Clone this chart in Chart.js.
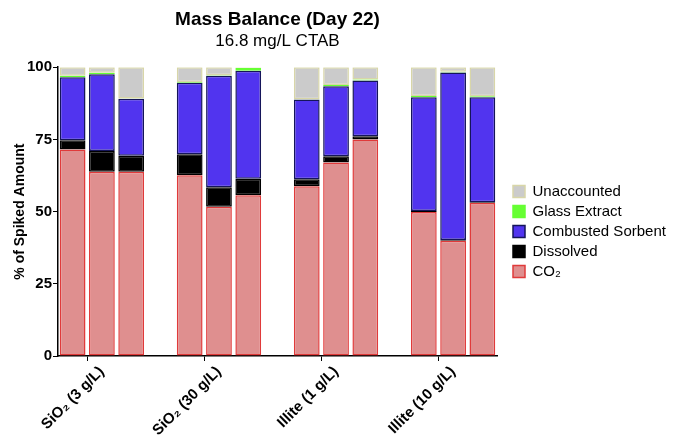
<!DOCTYPE html>
<html>
<head>
<meta charset="utf-8">
<script src="https://cdn.jsdelivr.net/npm/chart.js@4"></script>
<style>
    html, body { margin: 0; padding: 0; background: #fff; }
    #wrap { width: 675px; height: 435px; position: relative; }
</style>
</head>
<body>
<div id="wrap"><canvas id="massChart"></canvas></div>
<script>
// groups (3 bars each)
const groups = ['SiO₂ (3 g/L)', 'SiO₂ (30 g/L)', 'Illite (1 g/L)', 'Illite (10 g/L)'];

// % of spiked amount, 12 bars in order
const co2         = [71.5, 63.8, 63.8,  62.6, 51.7, 55.7,  58.8, 67.0, 75.0,  49.9, 39.9, 53.0];
const dissolved   = [ 3.2,  7.2,  5.5,   7.3,  6.7,  5.7,   2.4,  2.2,  1.1,   0.3,  0.3,  0.2];
const combusted   = [21.8, 26.6, 19.8,  24.7, 38.6, 37.4,  27.6, 24.2, 19.3,  39.4, 58.0, 36.4];
const glass       = [ 0.5,  0.5,  0.1,   0.3,  0.2,  1.0,   0.1,  0.4,  0.3,   0.4,  0.2,  0.3];
const unaccounted = [ 3.0,  1.9, 10.8,   5.1,  2.8,  0.2,  11.1,  6.2,  4.3,  10.0,  1.6, 10.1];

const yTicks = [0, 25, 50, 75, 100];

// spread 12 bars into 15 slots (an empty slot between groups)
function slots(vals) {
    const out = [];
    vals.forEach((v, i) => {
        if (i > 0 && i % 3 === 0) out.push(null);
        out.push(v);
    });
    return out;
}

const labels = [];
groups.forEach((g, gi) => {
    if (gi > 0) labels.push('');
    labels.push('', g, '');
});

const FONT = "'Liberation Sans', Arial, sans-serif";

const ds = (label, data, bg, border) => ({
    label: label,
    data: slots(data),
    backgroundColor: bg,
    borderColor: border,
    borderWidth: 1.5,
    borderSkipped: false,
    barPercentage: 0.88,
    categoryPercentage: 1.0
});

// push the legend a bit right/down, like the original
const legendNudge = {
    id: 'legendNudge',
    afterLayout(chart) {
        const lg = chart.legend;
        if (!lg) return;
        lg.left += 11; lg.right += 11;
        lg.top += 20; lg.bottom += 20;
    }
};

const chart = new Chart(document.getElementById('massChart'), {
    type: 'bar',
    data: {
        labels: labels,
        datasets: [
            ds('CO₂', co2, '#df8f8f', '#e03a3a'),
            ds('Dissolved', dissolved, '#000000', '#000000'),
            ds('Combusted Sorbent', combusted, '#5134ef', '#15155a'),
            ds('Glass Extract', glass, '#66ff33', '#66ff33'),
            ds('Unaccounted', unaccounted, '#cbcbcb', '#d8d6a8')
        ]
    },
    plugins: [legendNudge],
    options: {
        responsive: true,
        maintainAspectRatio: false,
        animation: false,
        layout: { padding: { left: 8, right: 15, top: 3, bottom: 0 } },
        plugins: {
            title: {
                display: true,
                text: 'Mass Balance (Day 22)',
                color: '#000',
                fullSize: false,
                font: { family: FONT, size: 19, weight: 'bold' },
                padding: { top: 5, bottom: 0 }
            },
            subtitle: {
                display: true,
                text: '16.8 mg/L CTAB',
                color: '#000',
                fullSize: false,
                font: { family: FONT, size: 17 },
                padding: { top: 0, bottom: 16 }
            },
            legend: {
                position: 'right',
                fullSize: false,
                reverse: true,
                labels: {
                    color: '#000',
                    boxWidth: 12,
                    boxHeight: 12,
                    padding: 5,
                    font: { family: FONT, size: 15 }
                }
            },
            tooltip: { enabled: false }
        },
        scales: {
            x: {
                stacked: true,
                afterFit: (axis) => { axis.height = 79; },
                border: { color: '#000', width: 1.5 },
                grid: {
                    drawOnChartArea: false,
                    tickLength: 5,
                    tickColor: (c) => (c.index % 4 === 1 ? '#000' : 'rgba(0,0,0,0)')
                },
                ticks: {
                    autoSkip: false,
                    maxRotation: 45,
                    minRotation: 45,
                    color: '#000',
                    padding: 2,
                    font: { family: FONT, size: 15, weight: 'bold' }
                }
            },
            y: {
                stacked: true,
                min: 0,
                max: 100,
                afterBuildTicks: (axis) => { axis.ticks = yTicks.map(v => ({ value: v })); },
                afterFit: (axis) => { axis.width = 50; },
                border: { color: '#000', width: 1.5 },
                grid: { drawOnChartArea: false, tickLength: 5, tickColor: '#000' },
                ticks: {
                    color: '#000',
                    padding: 1,
                    font: { family: FONT, size: 15, weight: 'bold' }
                },
                title: {
                    display: true,
                    text: '% of Spiked Amount',
                    color: '#000',
                    font: { family: FONT, size: 14, weight: 'bold' },
                    padding: { top: 4, bottom: 0 }
                }
            }
        }
    }
});
</script>
</body>
</html>
